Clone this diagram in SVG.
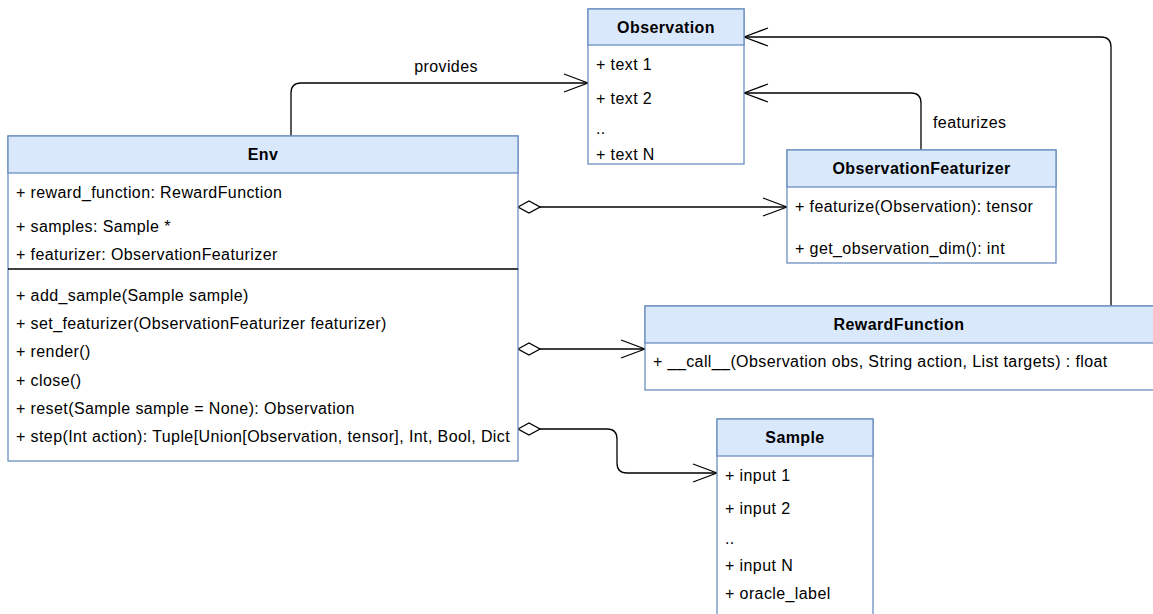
<svg xmlns="http://www.w3.org/2000/svg" width="1153" height="614" viewBox="0 0 1153 614">
  <style>
    .box { fill: #ffffff; stroke: #6c8ebf; stroke-width: 1.3; }
    .hdr { fill: #dae8fc; stroke: #6c8ebf; stroke-width: 1.3; }
    .sep { stroke: #000000; stroke-width: 1.3; }
    .t { font-family: "Liberation Sans", Arial, Helvetica, sans-serif; font-size: 16px; letter-spacing: 0.4px; fill: #000000; }
    .title { font-weight: bold; text-anchor: middle; }
    .edge { fill: none; stroke: #000000; stroke-width: 1.3; }
    .agg { marker-start: url(#diamond); marker-end: url(#open); }
    .dep { marker-end: url(#open); }
  </style>
  <defs>
    <marker id="open" viewBox="0 0 26 20" refX="25" refY="10" markerWidth="26" markerHeight="20" markerUnits="userSpaceOnUse" orient="auto">
      <path d="M1,1 L25,10 L1,19" fill="none" stroke="#000000" stroke-width="1.3"/>
    </marker>
    <marker id="diamond" viewBox="0 0 25 14" refX="1" refY="7" markerWidth="25" markerHeight="14" markerUnits="userSpaceOnUse" orient="auto">
      <path d="M1,7 L12,1 L23,7 L12,13 Z" fill="#ffffff" stroke="#000000" stroke-width="1.3"/>
    </marker>
  </defs>

  <!-- connectors -->
  <g id="connectors">
    <path class="edge dep" d="M291,136 V93 Q291,83 301,83 H588"/>
    <text class="t" x="446" y="72" text-anchor="middle">provides</text>
    <path class="edge dep" d="M921,150 V103 Q921,93 911,93 H744"/>
    <text class="t" x="933" y="128">featurizes</text>
    <path class="edge dep" d="M1111,306 V47 Q1111,37 1101,37 H744"/>
    <path class="edge agg" d="M518,207 H787"/>
    <path class="edge agg" d="M518,349 H645"/>
    <path class="edge agg" d="M518,429 H607 Q617,429 617,439 V463 Q617,473 627,473 H717"/>
  </g>

  <!-- Observation -->
  <g id="observation">
    <rect class="box" x="588" y="9" width="156" height="155"/>
    <rect class="hdr" x="588" y="9" width="156" height="36"/>
    <text class="t title" x="666" y="33">Observation</text>
    <text class="t" x="596" y="70">+ text 1</text>
    <text class="t" x="596" y="104">+ text 2</text>
    <text class="t" x="596" y="134">..</text>
    <text class="t" x="596" y="160">+ text N</text>
  </g>

  <!-- Env -->
  <g id="env">
    <rect class="box" x="8" y="136" width="510" height="325"/>
    <rect class="hdr" x="8" y="136" width="510" height="37"/>
    <text class="t title" x="263" y="160">Env</text>
    <text class="t" x="16" y="198">+ reward_function: RewardFunction</text>
    <text class="t" x="16" y="232">+ samples: Sample *</text>
    <text class="t" x="16" y="260">+ featurizer: ObservationFeaturizer</text>
    <line class="sep" x1="8" y1="269" x2="518" y2="269"/>
    <text class="t" x="16" y="301">+ add_sample(Sample sample)</text>
    <text class="t" x="16" y="329">+ set_featurizer(ObservationFeaturizer featurizer)</text>
    <text class="t" x="16" y="357">+ render()</text>
    <text class="t" x="16" y="386">+ close()</text>
    <text class="t" x="16" y="414">+ reset(Sample sample = None): Observation</text>
    <text class="t" x="16" y="442">+ step(Int action): Tuple[Union[Observation, tensor], Int, Bool, Dict</text>
  </g>

  <!-- ObservationFeaturizer -->
  <g id="observation-featurizer">
    <rect class="box" x="787" y="150" width="269" height="113"/>
    <rect class="hdr" x="787" y="150" width="269" height="37"/>
    <text class="t title" x="921.5" y="174">ObservationFeaturizer</text>
    <text class="t" x="795" y="212">+ featurize(Observation): tensor</text>
    <text class="t" x="795" y="254">+ get_observation_dim(): int</text>
  </g>

  <!-- RewardFunction -->
  <g id="reward-function">
    <rect class="box" x="645" y="306" width="520" height="84"/>
    <rect class="hdr" x="645" y="306" width="520" height="37"/>
    <text class="t title" x="899" y="330">RewardFunction</text>
    <text class="t" x="653" y="367">+ __call__(Observation obs, String action, List targets) : float</text>
  </g>

  <!-- Sample -->
  <g id="sample">
    <rect class="box" x="717" y="419" width="156" height="230"/>
    <rect class="hdr" x="717" y="419" width="156" height="37"/>
    <text class="t title" x="795" y="443">Sample</text>
    <text class="t" x="725" y="481">+ input 1</text>
    <text class="t" x="725" y="514">+ input 2</text>
    <text class="t" x="725" y="544">..</text>
    <text class="t" x="725" y="571">+ input N</text>
    <text class="t" x="725" y="599">+ oracle_label</text>
  </g>
</svg>
